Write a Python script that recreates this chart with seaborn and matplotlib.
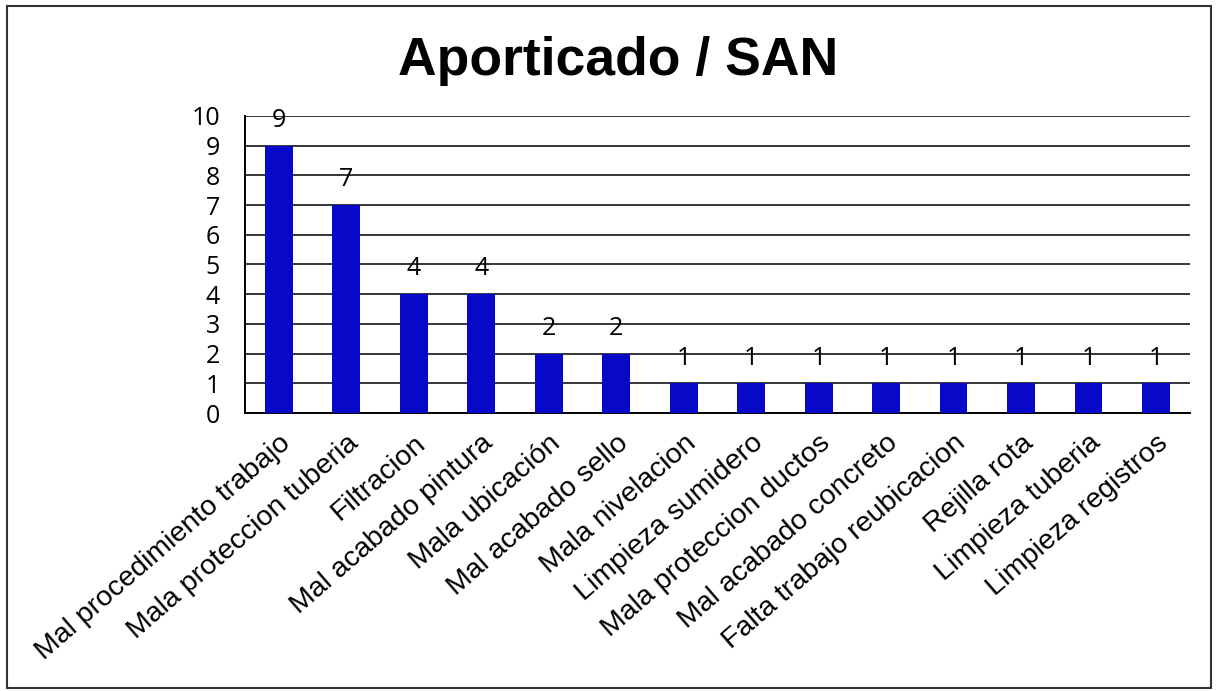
import matplotlib
matplotlib.use("Agg")
import matplotlib.pyplot as plt
import seaborn as sns
import pandas as pd
import numpy as np

categories = ["Mal procedimiento trabajo", "Mala proteccion tuberia", "Filtracion",
              "Mal acabado pintura", "Mala ubicación", "Mal acabado sello",
              "Mala nivelacion", "Limpieza sumidero", "Mala proteccion ductos",
              "Mal acabado concreto", "Falta trabajo reubicacion", "Rejilla rota",
              "Limpieza tuberia", "Limpieza registros"]
values = [9, 7, 4, 4, 2, 2, 1, 1, 1, 1, 1, 1, 1, 1]

df = pd.DataFrame({"causa": categories, "n": values})

sns.set_style("white")
plt.rcParams["font.family"] = ["Liberation Sans", "DejaVu Sans"]
plt.rcParams["text.color"] = "black"
plt.rcParams["xtick.color"] = "black"
plt.rcParams["ytick.color"] = "black"

fig = plt.figure(figsize=(12.16, 6.91), dpi=100)
ax = fig.add_axes([0.2015, 0.4023, 0.777, 0.430])

sns.barplot(data=df, x="causa", y="n", color="#0808c8", width=0.41,
            saturation=1, linewidth=0, ax=ax, zorder=3)

ax.set_ylim(0, 10)
ax.set_xlim(-0.5, len(categories) - 0.5)
ax.set_yticks(range(0, 11))
ax.set_yticklabels([str(i) for i in range(0, 11)], fontsize=18, family="Open Sans")
ax.yaxis.grid(True, color="black", linewidth=1.1, zorder=0)
ax.set_axisbelow(True)

ax.set_xticks(np.arange(len(categories)))
ax.set_xticklabels(categories, rotation=41, ha="right", rotation_mode="anchor", fontsize=20.5)
ax.tick_params(axis="x", length=0, pad=12)
ax.set_xticks(np.arange(len(categories) + 1) - 0.5, minor=True)
ax.tick_params(axis="x", which="minor", length=6, width=1.2, color="black", direction="out")
ax.tick_params(axis="y", length=6, width=1.2, color="black", direction="out", pad=12)

for s in ["top", "right"]:
    ax.spines[s].set_visible(False)
for s in ["left", "bottom"]:
    ax.spines[s].set_color("black")
    ax.spines[s].set_linewidth(1.4)

ax.set_xlabel("")
ax.set_ylabel("")

for i, v in enumerate(values):
    ax.text(i, v + 0.85, str(v), ha="center", va="center", fontsize=18,
            family="Open Sans", color="black", zorder=4)

fig.text(0.508, 0.912, "Aporticado / SAN", ha="center", va="center",
         fontsize=38.5, fontweight="bold", color="black")

frame = plt.Rectangle((0.006, 0.004), 0.99, 0.988, transform=fig.transFigure,
                      fill=False, edgecolor="#333333", linewidth=1.5)
fig.patches.append(frame)

fig.savefig("out.png", dpi=100)
